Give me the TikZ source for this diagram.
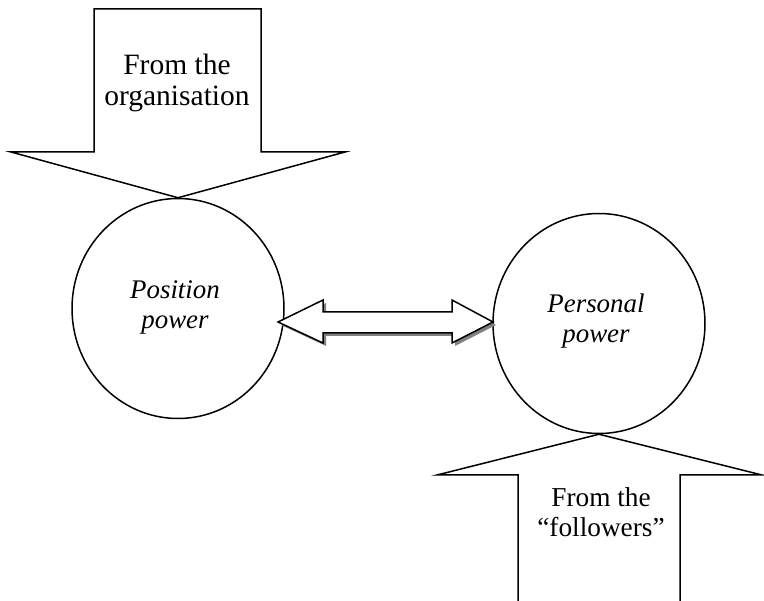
\documentclass[tikz,border=0pt]{standalone}
\usepackage{fontspec}
\setmainfont{Liberation Serif}
\usetikzlibrary{shapes.geometric}
\begin{document}
\begin{tikzpicture}[x=1pt,y=-1pt,
  outl/.style={draw=black,line width=1.5pt,line join=miter,fill=white},
  powercircle/.style={ellipse,draw=black,line width=1.5pt,minimum width=212pt,minimum height=220pt,inner sep=0pt},
  toptext/.style={align=center,inner sep=0pt,font=\fontsize{29.5}{31}\selectfont},
  bottext/.style={align=center,inner sep=0pt,font=\fontsize{27.3}{30}\selectfont},
  circtext/.style={align=center,inner sep=0pt,font=\itshape\fontsize{26.9}{30}\selectfont}]
\useasboundingbox (0,0) rectangle (764,601);
\clip (0,0) rectangle (764,601);
% circles
\node[powercircle] (pos) at (178,308.5) {};
\node[powercircle] (pers) at (599,323.5) {};
% top arrow
\coordinate (toptip) at (pos.north);
\draw[outl] (94,9) -- (261,9) -- (261,152) -- (345,152) -- (toptip) -- (11,152) -- (94,152) -- cycle;
% bottom arrow
\coordinate (bottip) at (pers.south);
\draw[outl] (bottip) -- (762,475) -- (680,475) -- (680,610) -- (518,610) -- (518,475) -- (437,475) -- cycle;
% double arrow with shadow
\coordinate (ltip) at (278,322);
\coordinate (rtip) at (493,322);
\fill[gray] ([shift={(3,3)}]ltip) -- ++(45,-22) -- ++(0,10) -- ++(129,0) -- ++(0,-10) -- ([shift={(3,3)}]rtip) -- ++(-41,21) -- ++(0,-10) -- ++(-129,0) -- ++(0,10) -- cycle;
\draw[outl] (ltip) -- ++(45,-22) -- ++(0,12) -- ++(129,0) -- ++(0,-12) -- (rtip) -- ++(-41,21) -- ++(0,-10) -- ++(-129,0) -- ++(0,10) -- cycle;
% texts
\node[toptext] (torg) at (177,83) {From the\\organisation};
\node[bottext] (tfol) at (601,512.5) {From the\\``followers''};
\node[circtext] (tpos) at (175,307) {Position\\power};
\node[circtext] (tpers) at (596,321.5) {Personal\\power};
\end{tikzpicture}
\end{document}
